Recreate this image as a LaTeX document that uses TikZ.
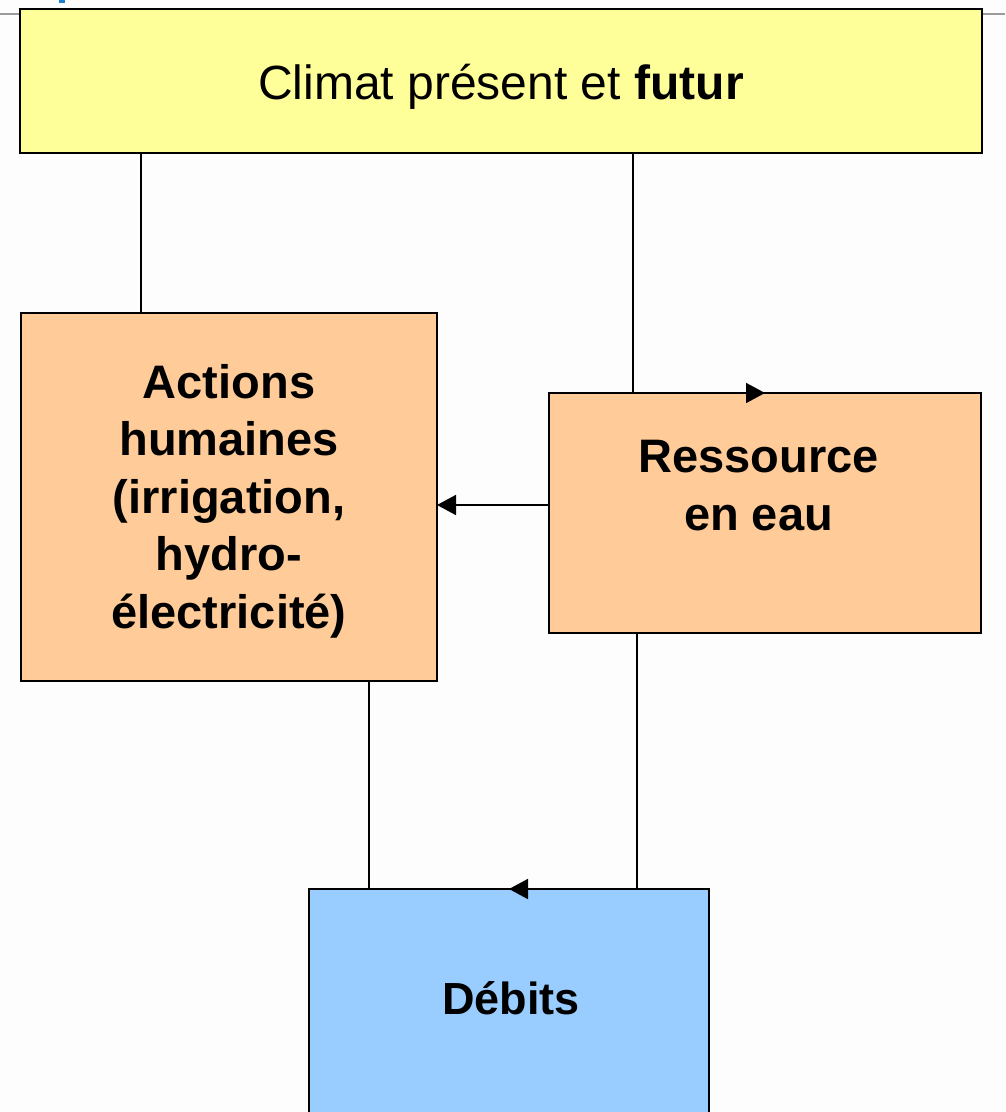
\documentclass[tikz,border=0pt]{standalone}
\usepackage{fontspec}
\setmainfont{Liberation Sans}
\usetikzlibrary{arrows.meta}
\definecolor{climY}{HTML}{FFFF99}
\definecolor{orangeB}{HTML}{FFCC99}
\definecolor{blueB}{HTML}{99CCFF}
\definecolor{bgW}{HTML}{FDFDFD}
\definecolor{greyL}{HTML}{9A9A9A}
\definecolor{markB}{HTML}{1E80D0}
\begin{document}
\begin{tikzpicture}[x=1pt,y=-1pt,
  box/.style={draw=black,line width=2pt,rectangle,anchor=north west,inner sep=0pt,outer sep=0pt},
  conn/.style={draw=black,line width=1.8pt},
  tipped/.style={-{Triangle[length=19pt,width=20pt]}},
  lbl/.style={font=\bfseries\fontsize{47}{57.5}\selectfont, align=center, anchor=base, inner sep=0pt},
  cl/.style={font=\fontsize{48}{57.5}\selectfont, anchor=base, inner sep=0pt}]
\clip (0,0) rectangle (1005,1112);
\fill[bgW] (0,0) rectangle (1005,1112);
% slide remnants
\draw[greyL,line width=2pt] (0,14) -- (20,14);
\draw[greyL,line width=2pt] (982,14) -- (1005,14);
\fill[markB] (59,0) rectangle (65,3);
% boxes
\node[box,fill=climY,minimum width=962pt,minimum height=144pt] (climat) at (20,9) {};
\node[box,fill=orangeB,minimum width=416pt,minimum height=368pt] (actions) at (21,313) {};
\node[box,fill=orangeB,minimum width=432pt,minimum height=240pt] (ressource) at (549,393) {};
\node[box,fill=blueB,minimum width=400pt,minimum height=260pt] (debits) at (309,889) {};
% labels (base anchor = baseline of the last line)
\node[cl] (climatTxt) at (501,99) {Climat présent et \textbf{futur}};
\node[lbl] (actionsTxt) at (229,628) {Actions\\humaines\\(irrigation,\\hydro-\\électricité)};
\node[lbl] (ressourceTxt) at (758.5,530) {Ressource\\en eau};
\node[lbl,font=\bfseries\fontsize{45}{57.5}\selectfont] (debitsTxt) at (511,1014) {Débits};
% connector anchors
\coordinate (xa) at (141,0);
\coordinate (xb) at (633,0);
\coordinate (xc) at (369,0);
\coordinate (xd) at (637,0);
\coordinate (ya) at (0,505);
% connectors
\draw[conn] (climat.south -| xa) -- (actions.north -| xa);
\draw[conn,tipped] (climat.south -| xb) -- (ressource.north -| xb) -- (ressource.north);
\draw[conn,tipped] (ressource.west |- ya) -- (actions.east |- ya);
\draw[conn] (actions.south -| xc) -- (debits.north -| xc);
\draw[conn,tipped] (ressource.south -| xd) -- (debits.north -| xd) -- (debits.north);
\end{tikzpicture}
\end{document}
